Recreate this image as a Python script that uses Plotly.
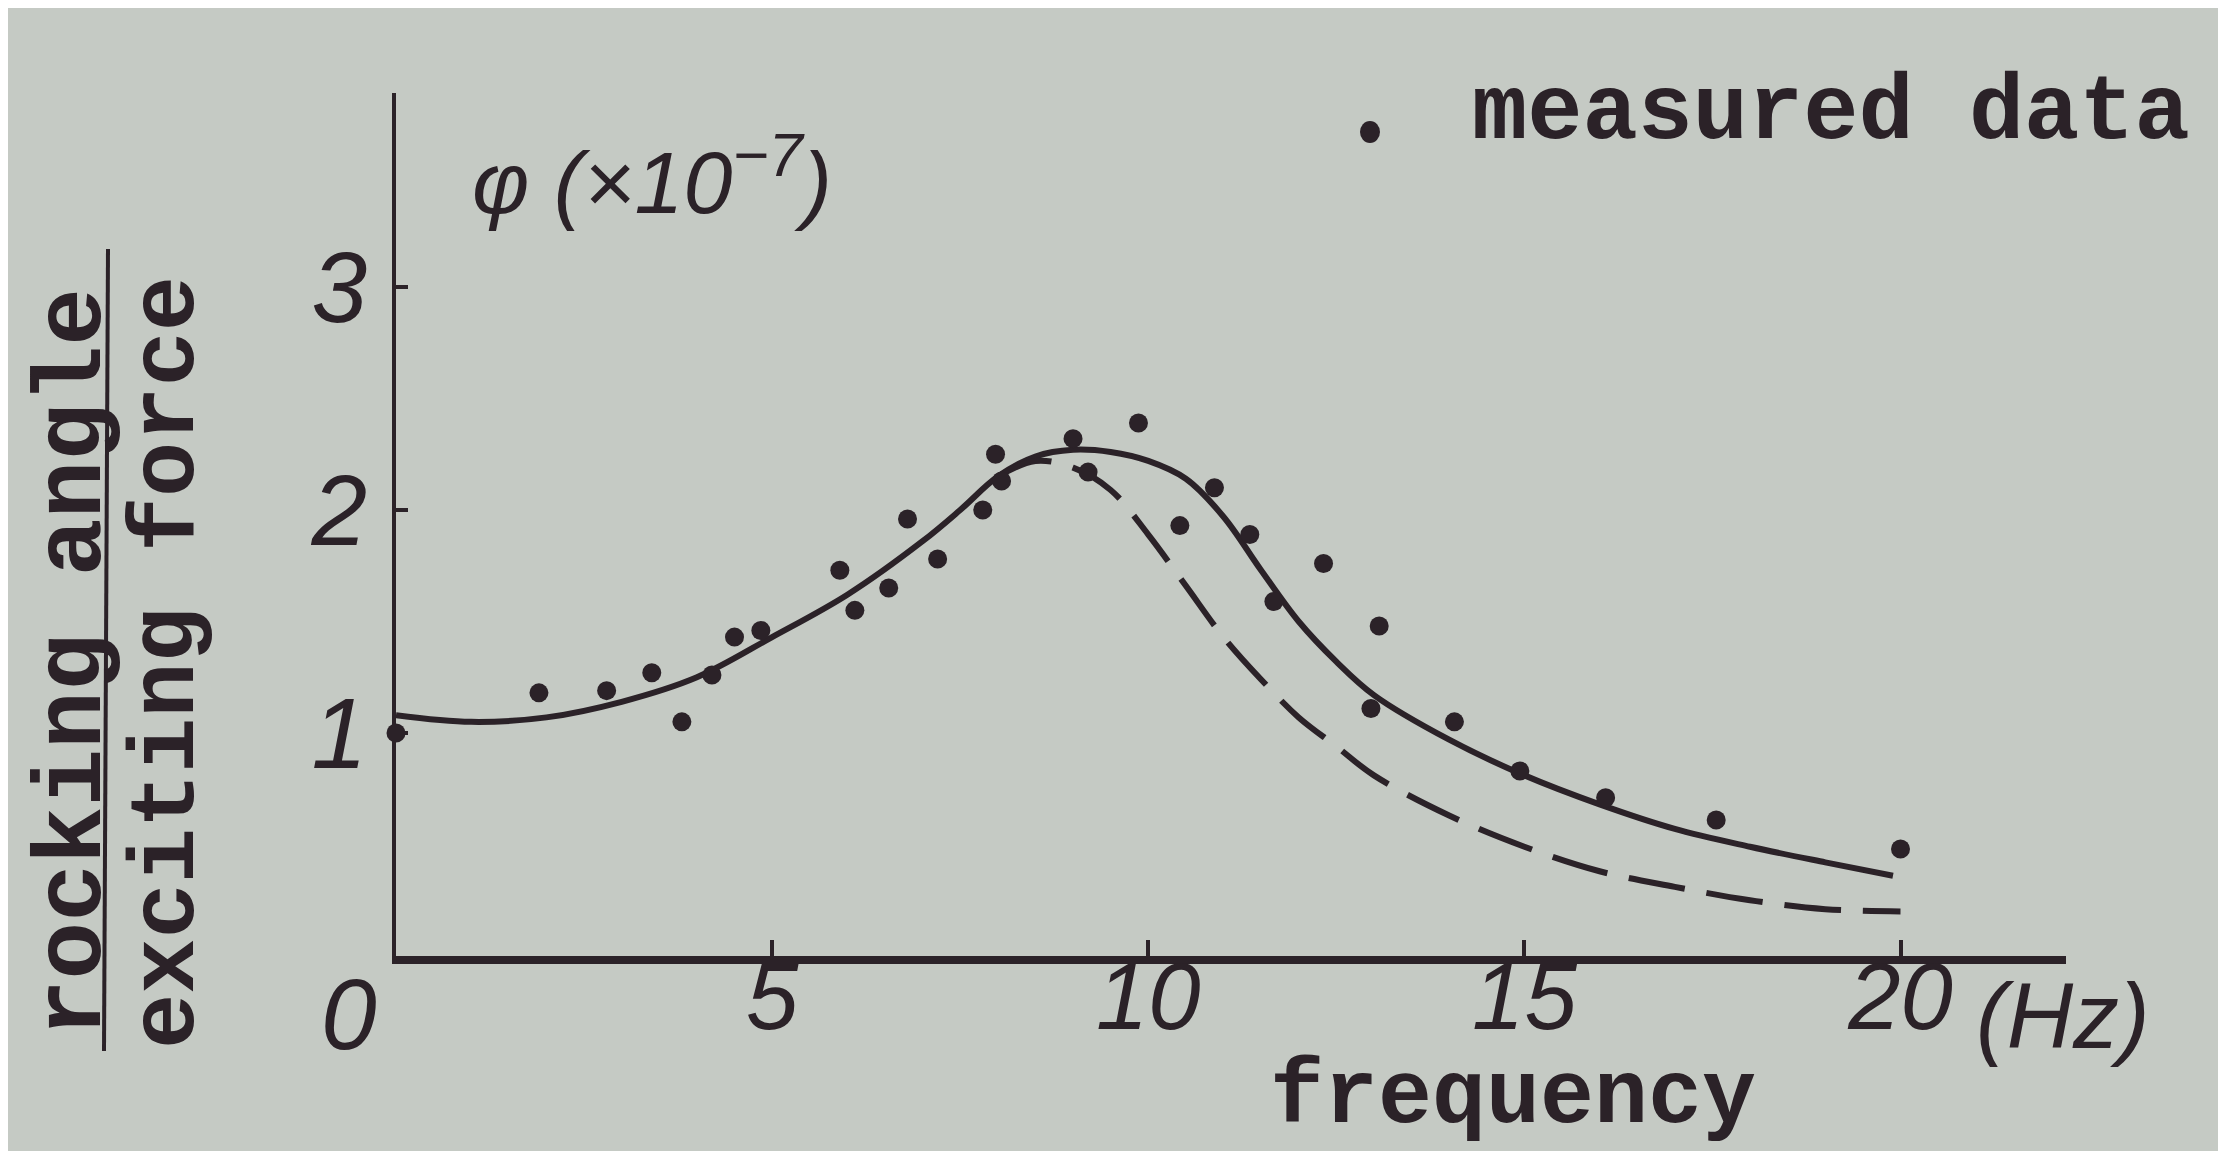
import plotly.graph_objects as go

# ---- data ----
meas_freq = [0.0, 1.9, 2.8, 3.4, 3.8, 4.2, 4.5, 4.85, 5.9, 6.1, 6.55, 6.8, 7.2, 7.8, 7.97, 8.05,
             9.0, 9.2, 9.87, 10.42, 10.88, 11.35, 11.67, 12.33, 13.07, 12.96, 14.07, 14.94,
             16.08, 17.55, 20.0]
meas_amp = [1.0, 1.18, 1.19, 1.27, 1.05, 1.26, 1.43, 1.46, 1.73, 1.55, 1.65, 1.96, 1.78, 2.0, 2.25, 2.13,
            2.32, 2.17, 2.39, 1.93, 2.10, 1.89, 1.59, 1.76, 1.48, 1.11, 1.05, 0.83,
            0.71, 0.61, 0.48]

solid_freq = [0, 1, 2, 3, 4, 5, 6, 7, 7.5, 8, 8.5, 9, 9.5, 10, 10.5, 11, 11.5, 12, 12.5, 13,
              14, 15, 16, 17, 18, 19, 19.9]
solid_amp = [1.08, 1.05, 1.07, 1.14, 1.25, 1.43, 1.62, 1.86, 2.0, 2.15, 2.24, 2.27, 2.26, 2.22, 2.14,
             1.97, 1.73, 1.50, 1.32, 1.17, 0.97, 0.81, 0.68, 0.57, 0.49, 0.42, 0.36]

dashed_freq = [8.0, 8.5, 9.0, 9.5, 10.0, 10.5, 11.0, 11.5, 12.0, 12.5, 13.0, 14.0, 15.0, 16.0,
               17.0, 18.0, 19.0, 20.0]
dashed_amp = [2.15, 2.22, 2.19, 2.09, 1.89, 1.66, 1.43, 1.24, 1.07, 0.94, 0.81, 0.63, 0.49, 0.38,
              0.31, 0.25, 0.21, 0.20]

x_tickvals = [5, 10, 15, 20]
x_ticktext = ["5", "10", "15", "20"]
y_tickvals = [1, 2, 3]
y_ticktext = ["1", "2", "3"]

INK = "#2b2228"
BG = "#c5cac4"
W, H = 2226, 1151
PX0, PX1, PY0, PY1 = 388, 2058, 948, 85  # plot area in pixels


def px(x):
    return (x - PX0) / (PX1 - PX0)


def py(y):
    return (PY0 - y) / (PY0 - PY1)


fig = go.Figure()
fig.add_trace(go.Scatter(x=solid_freq, y=solid_amp, mode="lines",
                         line=dict(color=INK, width=6, shape="spline", smoothing=1.0),
                         showlegend=False, hoverinfo="skip"))
fig.add_trace(go.Scatter(x=dashed_freq, y=dashed_amp, mode="lines",
                         line=dict(color=INK, width=6, shape="spline", smoothing=1.0, dash="57px,22px"),
                         showlegend=False, hoverinfo="skip"))
fig.add_trace(go.Scatter(x=meas_freq, y=meas_amp, mode="markers", name="measured data",
                         marker=dict(color=INK, size=19), cliponaxis=False, showlegend=False))

mono = "Liberation Mono"
hand = "Liberation Sans"

fig.update_layout(
    width=W, height=H,
    paper_bgcolor=BG, plot_bgcolor=BG,
    margin=dict(l=PX0, r=W - PX1, t=PY1, b=H - PY0, pad=0),
    xaxis=dict(range=[0, 22.2], showgrid=False, zeroline=False, showline=True,
               linecolor=INK, linewidth=8, ticks="inside", ticklen=16, tickwidth=4, tickcolor=INK,
               tickvals=x_tickvals, ticktext=x_ticktext,
               tickfont=dict(family=hand, size=94, color=INK, style="italic"),
               ticklabelstandoff=-48),
    yaxis=dict(range=[0, 3.87], showgrid=False, zeroline=False, showline=True,
               linecolor=INK, linewidth=4, ticks="inside", ticklen=12, tickwidth=4, tickcolor=INK,
               tickvals=y_tickvals, ticktext=y_ticktext,
               tickfont=dict(family=hand, size=100, color=INK, style="italic"),
               ticklabelstandoff=5),
)

ann = [
    dict(text="0", x=px(341), y=py(1006), font=dict(family=hand, size=100, color=INK, style="italic")),
    dict(text="(Hz)", x=px(1966), y=py(1008), xanchor="left",
         font=dict(family=hand, size=92, color=INK, style="italic")),
    dict(text="frequency", x=px(1505), y=py(1090), font=dict(family=mono, size=90, color=INK, weight="bold")),
    dict(text="φ (×10<sup>−7</sup>)", x=px(462), y=py(168), xanchor="left",
         font=dict(family=hand, size=88, color=INK, style="italic")),
    dict(text="measured data", x=px(1462), y=py(106), xanchor="left",
         font=dict(family=mono, size=92, color=INK, weight="bold")),
    dict(text="rocking angle", x=px(66), y=py(655), textangle=-90,
         font=dict(family=mono, size=96, color=INK, weight="bold")),
    dict(text="exciting force", x=px(160), y=py(655), textangle=-90,
         font=dict(family=mono, size=92, color=INK, weight="bold")),
]
for a in ann:
    a.setdefault("xanchor", "center")
    a.update(xref="paper", yref="paper", yanchor="middle", showarrow=False)
    fig.add_annotation(**a)

# legend bullet for "measured data"
fig.add_shape(type="circle", xref="paper", yref="paper", xsizemode="pixel", ysizemode="pixel",
              xanchor=px(1362), yanchor=py(124), x0=-10, x1=10, y0=-11, y1=11,
              fillcolor=INK, line=dict(width=0))
# fraction bar of the y-axis label
fig.add_shape(type="line", xref="paper", yref="paper",
              x0=px(100), x1=px(96), y0=py(241), y1=py(1043),
              line=dict(color=INK, width=4))

fig.write_html("out.html")
